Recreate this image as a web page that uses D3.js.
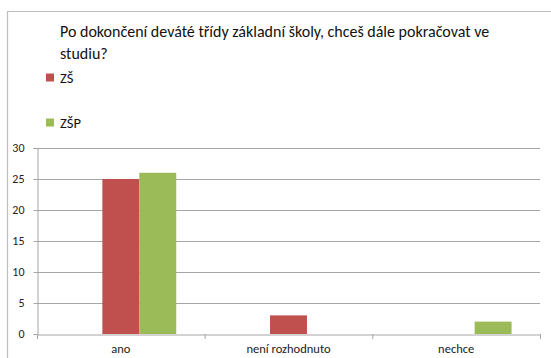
<!DOCTYPE html>
<html>
<head>
<meta charset="utf-8">
<script src="https://cdn.jsdelivr.net/npm/d3@7/dist/d3.min.js"></script>
<style>
  html, body { margin: 0; padding: 0; background: #fff; }
  svg { display: block; font-family: Carlito, Calibri, Lato, "Open Sans", sans-serif; }
</style>
</head>
<body>
<svg id="chart" width="551" height="358"></svg>
<script>
// Answers to the question, per school type
const categories = ["ano", "není rozhodnuto", "nechce"];
const seriesNames = ["ZŠ", "ZŠP"];
const seriesColors = ["#c0504d", "#9bbb59"];
const valuesZS = [25, 3, 0];
const valuesZSP = [26, 0, 2];
const yTicks = [0, 5, 10, 15, 20, 25, 30];
const titleLines = ["Po dokončení deváté třídy základní školy, chceš dále pokračovat ve", "studiu?"];

// each category has three bar slots; the first one stays empty
const slots = ["", ...seriesNames];
const seriesValues = [valuesZS, valuesZSP];

const svg = d3.select("#chart");
const margin = { left: 37, right: 11, top: 148, bottom: 24 };
const W = 551, H = 358;

// chart frame
svg.append("path")
  .attr("d", `M7.5,${H} V11.5 H${W}`)
  .attr("fill", "none")
  .attr("stroke", "#bdbdbd")
  .attr("stroke-width", 1.2);

// title
svg.append("text")
  .attr("x", 60).attr("y", 37)
  .attr("font-size", 16)
  .attr("fill", "#111")
  .selectAll("tspan").data(titleLines).join("tspan")
  .attr("x", 60)
  .attr("dy", (d, i) => i === 0 ? 0 : 22)
  .text(d => d);

// legend
const legend = svg.append("g").selectAll("g").data(seriesNames).join("g")
  .attr("transform", (d, i) => `translate(46,${78 + i * 45})`);
legend.append("rect")
  .attr("x", 0).attr("y", -4.5).attr("width", 8).attr("height", 8)
  .attr("fill", (d, i) => seriesColors[i]);
legend.append("text")
  .attr("x", 14).attr("y", 5)
  .attr("font-size", 14.5)
  .attr("fill", "#111")
  .text(d => d);

const x = d3.scaleBand().domain(categories).range([margin.left, W - margin.right]);
const xs = d3.scaleBand().domain(slots).range([0, x.bandwidth()]).paddingOuter(0.77).paddingInner(0);
const y = d3.scaleLinear().domain([0, 30]).range([H - margin.bottom, margin.top]);

// horizontal gridlines
svg.append("g").selectAll("line").data(yTicks.slice(1)).join("line")
  .attr("x1", margin.left).attr("x2", W - margin.right)
  .attr("y1", d => y(d) + 0.5).attr("y2", d => y(d) + 0.5)
  .attr("stroke", "#a6a6a6").attr("stroke-width", 1);

// y axis
const yAxis = svg.append("g")
  .attr("transform", `translate(${margin.left + 0.5},0)`)
  .call(d3.axisLeft(y).tickValues(yTicks).tickSize(4).tickPadding(9));
yAxis.select(".domain").attr("stroke", "#a6a6a6");
yAxis.selectAll(".tick line").attr("stroke", "#a6a6a6");
yAxis.selectAll(".tick text").attr("font-size", 12).attr("fill", "#222")
  .attr("font-family", "Carlito, Calibri, Lato, 'Open Sans', sans-serif");

// bars
seriesNames.forEach((name, si) => {
  svg.append("g").selectAll("rect").data(categories).join("rect")
    .attr("x", d => x(d) + xs(name))
    .attr("width", xs.bandwidth())
    .attr("y", (d, ci) => y(seriesValues[si][ci]))
    .attr("height", (d, ci) => y(0) - y(seriesValues[si][ci]))
    .attr("fill", seriesColors[si]);
});

// x axis
const xAxis = svg.append("g")
  .attr("transform", `translate(0,${y(0) + 0.5})`)
  .call(d3.axisBottom(x).tickSize(0).tickPadding(10));
xAxis.select(".domain").attr("stroke", "#a6a6a6");
xAxis.selectAll(".tick text").attr("font-size", 12.5).attr("fill", "#222")
  .attr("font-family", "Carlito, Calibri, Lato, 'Open Sans', sans-serif");
// category boundary ticks
svg.append("g").selectAll("line")
  .data([...categories.map(c => x(c)), W - margin.right])
  .join("line")
  .attr("x1", d => d + 0.5).attr("x2", d => d + 0.5)
  .attr("y1", y(0)).attr("y2", y(0) + 5)
  .attr("stroke", "#a6a6a6");
</script>
</body>
</html>
